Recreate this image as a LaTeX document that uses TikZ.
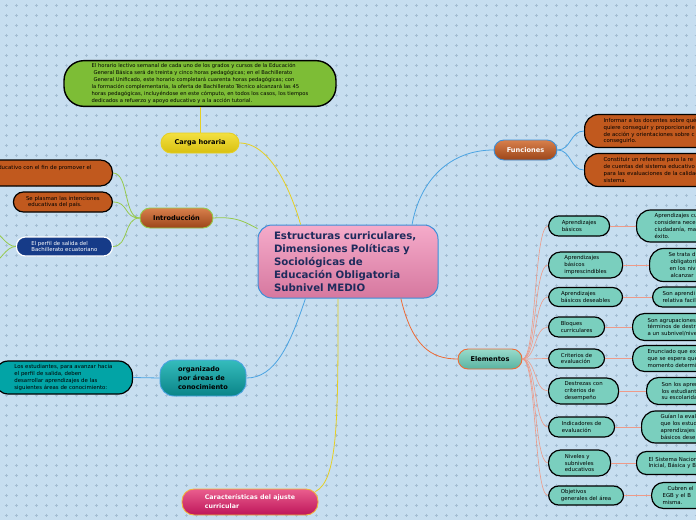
\documentclass[tikz,border=0pt]{standalone}
\usepackage{fontspec}
\setmainfont{DejaVu Sans}
\usetikzlibrary{positioning}

\definecolor{paper}{HTML}{C7DEF0}
\definecolor{crossc}{HTML}{A4BDD2}
\definecolor{navytext}{HTML}{1E2B5C}
\definecolor{rootedge}{HTML}{3C8FD8}
\definecolor{pinktop}{HTML}{F5ABCA}
\definecolor{pinkbot}{HTML}{D6789F}
\definecolor{rusttop}{HTML}{D8804C}
\definecolor{rustbot}{HTML}{9C4519}
\definecolor{rust}{HTML}{C1591E}
\definecolor{mint}{HTML}{7ACFBE}
\definecolor{minttop}{HTML}{98DBCB}
\definecolor{mintbot}{HTML}{5AB3A1}
\definecolor{lime}{HTML}{7DBD36}
\definecolor{limeedge}{HTML}{95C94A}
\definecolor{goldtop}{HTML}{F3E040}
\definecolor{goldbot}{HTML}{D8C010}
\definecolor{goldline}{HTML}{E6CF22}
\definecolor{skyline}{HTML}{4AA3E2}
\definecolor{emberline}{HTML}{EE6A35}
\definecolor{salmon}{HTML}{EE9A88}
\definecolor{navyfill}{HTML}{163B88}
\definecolor{tealtop}{HTML}{35BCBC}
\definecolor{tealbot}{HTML}{0A8488}
\definecolor{tealfill}{HTML}{02A4A6}
\definecolor{rosetop}{HTML}{EA5E8E}
\definecolor{rosebot}{HTML}{BE165A}
\definecolor{roseedge}{HTML}{F2B53A}

\begin{document}
\begin{tikzpicture}[
  x=1pt,
  y=-1pt,
  root/.style={
    draw=rootedge,
    line width=1pt,
    rounded corners=14pt,
    top color=pinktop,
    bottom color=pinkbot,
    minimum width=180pt,
    minimum height=73pt,
    text width=148pt,
    align=left,
    inner sep=0pt,
    text=navytext,
    font=\fontsize{10.2}{13}\selectfont\bfseries
  },
  topic/.style={draw, line width=0.9pt, rounded corners=10pt, minimum height=20pt,
    inner sep=2pt, align=left, font=\fontsize{6.6}{9}\selectfont\bfseries},
  leaf/.style={draw=black, line width=1.2pt, rounded corners=10pt, align=left,
    inner sep=3pt, font=\fontsize{5.4}{6.8}\selectfont},
  link/.style={line width=0.8pt}
]
\fill[paper] (0,0) rectangle (696,520);
\useasboundingbox (0,0) rectangle (696,520);
\clip (0,0) rectangle (696,520);
\foreach \x in {6,16,...,696}
  \draw[crossc, line width=0.4pt, dash pattern=on 3pt off 7pt, dash phase=6.5pt] (\x,0) -- (\x,520);
\foreach \y in {5,15,...,515}
  \draw[crossc, line width=0.4pt, dash pattern=on 3pt off 7pt, dash phase=5.5pt] (0,\y) -- (696,\y);

\node[root] (root) at (348,261.5) {Estructuras curriculares,\\Dimensiones Políticas y\\Sociológicas de\\Educación Obligatoria\\Subnivel MEDIO};

\node[topic, draw=rootedge, top color=rusttop, bottom color=rustbot, text=white, minimum width=63pt] (funciones) at (525.5,150) {Funciones};
\node[topic, draw=emberline, top color=minttop, bottom color=mintbot, minimum width=64pt] (elementos) at (490,359) {Elementos};
\node[topic, draw=goldline, top color=goldtop, bottom color=goldbot, minimum width=78pt] (carga) at (200,143) {Carga horaria};
\node[topic, draw=limeedge, top color=rusttop, bottom color=rustbot, minimum width=73pt] (intro) at (176.5,218) {Introducción};
\node[topic, draw=skyline, top color=tealtop, bottom color=tealbot, minimum width=86pt, minimum height=36pt, rounded corners=14pt] (areas) at (203,378) {organizado\\por áreas de\\conocimiento};
\node[topic, draw=roseedge, top color=rosetop, bottom color=rosebot, text=white, minimum width=136pt, minimum height=26pt, rounded corners=12pt, font=\fontsize{6.3}{9}\selectfont\bfseries] (ajuste) at (250,502) {Características del ajuste\\curricular};

\node[leaf, fill=lime, line width=1.4pt, rounded corners=20pt, minimum width=272pt, minimum height=45pt, font=\fontsize{5.2}{6.9}\selectfont] (horario) at (200,83.5) {El horario lectivo semanal de cada uno de los grados y cursos de la Educación\\\hspace{2pt}General Básica será de treinta y cinco horas pedagógicas; en el Bachillerato\\\hspace{2pt}General Unificado, este horario completará cuarenta horas pedagógicas; con\\la formación complementaria, la oferta de Bachillerato Técnico alcanzará las 45\\horas pedagógicas, incluyéndose en este cómputo, en todos los casos, los tiempos\\dedicados a refuerzo y apoyo educativo y a la acción tutorial.};

\node[leaf, fill=rust, anchor=west, text width=110pt, inner xsep=19pt, minimum height=33pt, rounded corners=14pt] (informar) at (584,131) {Informar a los docentes sobre qué\\quiere conseguir y proporcionarle\\de acción y orientaciones sobre c\\conseguirlo.};
\node[leaf, fill=rust, anchor=west, text width=110pt, inner xsep=19pt, minimum height=33pt, rounded corners=14pt] (referente) at (584,170) {Constituir un referente para la re\\de cuentas del sistema educativo\\para las evaluaciones de la calidad\\sistema.};

\node[leaf, fill=rust, anchor=east, text width=120pt, align=right, inner xsep=21pt, minimum height=26pt, rounded corners=12pt] (promover) at (113,173) {educativo con el fin de promover el\\[5pt]\mbox{}};
\node[leaf, fill=rust, anchor=east, minimum width=99pt, minimum height=20pt] (plasman) at (113,202) {Se plasman las intenciones\\\hspace{2pt}educativas del país.};
\node[leaf, fill=navyfill, draw=white, text=white, anchor=east, minimum width=96pt, minimum height=19pt, rounded corners=9pt] (perfil) at (113,246.5) {El perfil de salida del\\Bachillerato ecuatoriano};
\coordinate (perfilup) at (-6,232);
\coordinate (perfildown) at (-6,262);

\node[leaf, fill=tealfill, anchor=east, text width=98pt, inner xsep=20pt, minimum height=33pt, rounded corners=14pt] (estudiantes) at (133,377.5) {Los estudiantes, para avanzar hacia\\el perfil de salida, deben\\desarrollar aprendizajes de las\\siguientes áreas de conocimiento:};

\node[leaf, fill=mint, anchor=west, minimum width=61pt, minimum height=20pt] (basicos) at (548,226) {Aprendizajes\\básicos};
\node[leaf, fill=mint, anchor=west, minimum width=74pt, minimum height=26pt, rounded corners=12pt] (imprescindibles) at (548,265) {Aprendizajes\\básicos\\imprescindibles};
\node[leaf, fill=mint, anchor=west, minimum width=74pt, minimum height=19pt] (deseables) at (548,297) {Aprendizajes\\básicos deseables};
\node[leaf, fill=mint, anchor=west, minimum width=56pt, minimum height=20pt] (bloques) at (548,327) {Bloques\\curriculares};
\node[leaf, fill=mint, anchor=west, minimum width=56pt, minimum height=19pt] (criterios) at (548,358.5) {Criterios de\\evaluación};
\node[leaf, fill=mint, anchor=west, minimum width=70pt, minimum height=26pt, rounded corners=12pt] (destrezas) at (548,391) {Destrezas con\\criterios de\\desempeño};
\node[leaf, fill=mint, anchor=west, minimum width=66pt, minimum height=20pt] (indicadores) at (548,427) {Indicadores de\\evaluación};
\node[leaf, fill=mint, anchor=west, minimum width=62pt, minimum height=26pt, rounded corners=12pt] (niveles) at (548,463) {Niveles y\\subniveles\\educativos};
\node[leaf, fill=mint, anchor=west, minimum width=75pt, minimum height=19pt] (objetivos) at (548,495.5) {Objetivos\\generales del área};

\node[leaf, fill=mint, anchor=west, text width=90pt, inner xsep=18pt, minimum height=32pt, rounded corners=14pt] (dbasicos) at (636,226) {Aprendizajes cu\\considera nece\\ciudadanía, ma\\éxito.};
\node[leaf, fill=mint, anchor=west, text width=90pt, inner xsep=19pt, minimum height=33pt, rounded corners=14pt] (dimprescindibles) at (649,265) {Se trata d\\\hspace{2pt}obligatori\\\hspace{1pt}en los niv\\\hspace{2pt}alcanzar};
\node[leaf, fill=mint, anchor=west, text width=90pt, inner xsep=10pt, minimum height=20pt] (ddeseables) at (652,297) {Son aprendi\\relativa facil};
\node[leaf, fill=mint, anchor=west, text width=90pt, inner xsep=15pt, minimum height=27pt, rounded corners=12pt] (dbloques) at (632,327) {Son agrupaciones\\términos de destr\\a un subnivel/nive};
\node[leaf, fill=mint, anchor=west, text width=90pt, inner xsep=15pt, minimum height=26pt, rounded corners=12pt] (dcriterios) at (632,358.5) {Enunciado que ex\\que se espera que\\momento determi};
\node[leaf, fill=mint, anchor=west, text width=90pt, inner xsep=15pt, minimum height=27pt, rounded corners=12pt] (ddestrezas) at (646,391) {Son los apren\\los estudiant\\su escolarida};
\node[leaf, fill=mint, anchor=west, text width=90pt, inner xsep=19pt, minimum height=32pt, rounded corners=14pt] (dindicadores) at (641,427) {Guían la eval\\que los estud\\aprendizajes\\básicos dese};
\node[leaf, fill=mint, anchor=west, text width=90pt, inner xsep=12pt, minimum height=23pt] (dniveles) at (636,463) {El Sistema Nacion\\Inicial, Básica y B};
\node[leaf, fill=mint, anchor=west, text width=90pt, inner xsep=11pt, minimum height=26pt, rounded corners=12pt] (dobjetivos) at (651,495.5) {\hspace{5pt}Cubren el\\EGB y el B\\misma.};

\draw[link, goldline] (carga.north) -- (horario.south);
\draw[link, goldline] (carga.east) .. controls (272,143) and (292,195) .. (root.142);
\draw[link, limeedge] (intro.east) .. controls (238,216) and (248,224) .. (root.160);
\draw[link, skyline] (root.30) .. controls (420,180) and (450,150) .. (funciones.west);
\draw[link, emberline] (root.325) .. controls (412,345) and (430,359) .. (elementos.west);
\draw[link, skyline] (root.221) .. controls (290,345) and (275,378) .. (areas.east);
\draw[link, goldline] (root.255) .. controls (338,420) and (338,480) .. ([shift={(-3pt,-3pt)}]ajuste.north east);

\draw[link, skyline] (funciones.east) .. controls +(14,0) and +(-14,0) .. (informar.west);
\draw[link, skyline] (funciones.east) .. controls +(14,0) and +(-14,0) .. (referente.west);

\draw[link, limeedge] (intro.west) .. controls +(-16,0) and +(16,0) .. (promover.east);
\draw[link, limeedge] (intro.west) .. controls +(-16,0) and +(16,0) .. (plasman.east);
\draw[link, limeedge] (intro.west) .. controls +(-16,0) and +(16,0) .. (perfil.east);
\draw[link, limeedge] (perfil.west) .. controls +(-10,0) and +(6,0) .. (perfilup);
\draw[link, limeedge] (perfil.west) .. controls +(-10,0) and +(6,0) .. (perfildown);

\draw[link, skyline] (areas.west) -- (estudiantes.east);

\foreach \n in {basicos,imprescindibles,deseables,bloques,criterios,destrezas,indicadores,niveles,objetivos} {
  \draw[link, salmon, line width=0.6pt] (elementos.east) .. controls +(14,0) and +(-14,0) .. (\n.west);
  \draw[link, salmon, line width=0.6pt] (\n.east) -- (d\n.west);
}
\end{tikzpicture}
\end{document}
